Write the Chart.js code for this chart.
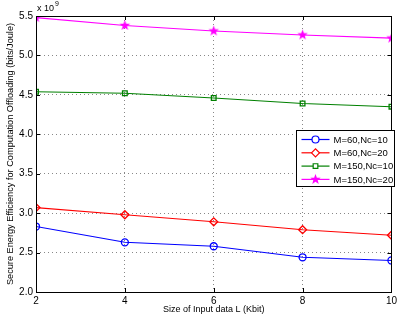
<!DOCTYPE html>
<html>
<head>
<meta charset="UTF-8">
<script src="https://cdn.jsdelivr.net/npm/chart.js"></script>
<style>
  html, body { margin: 0; padding: 0; background: #fff; }
  #wrap { width: 400px; height: 318px; }
</style>
</head>
<body>
<div id="wrap"><canvas id="myChart" width="400" height="318"></canvas></div>
<script>
// data (values in units of 1e9 bits/Joule)
var sizes = [2, 4, 6, 8, 10];
var m60_nc10 = [2.83, 2.63, 2.58, 2.44, 2.40];
var m60_nc20 = [3.07, 2.98, 2.89, 2.79, 2.72];
var m150_nc10 = [4.54, 4.52, 4.46, 4.39, 4.35];
var m150_nc20 = [5.48, 5.38, 5.31, 5.26, 5.22];
var seriesNames = ["M=60,Nc=10", "M=60,Nc=20", "M=150,Nc=10", "M=150,Nc=20"];
var yTicks = [2, 2.5, 3, 3.5, 4, 4.5, 5, 5.5];
var xTicks = [2, 4, 6, 8, 10];

var FONT = "'Liberation Sans', Arial, sans-serif";

// filled pentagram marker like matlab 'p'
function makeStar(color, r) {
  var c = document.createElement('canvas');
  var s = Math.ceil(r * 2 + 2);
  c.width = s; c.height = s;
  var g = c.getContext('2d');
  g.beginPath();
  for (var i = 0; i < 10; i++) {
    var rad = (i % 2 == 0) ? r : r * 0.42;
    var a = -Math.PI / 2 + i * Math.PI / 5;
    var px = s / 2 + rad * Math.cos(a), py = s / 2 + rad * Math.sin(a);
    if (i == 0) g.moveTo(px, py); else g.lineTo(px, py);
  }
  g.closePath();
  g.fillStyle = color;
  g.fill();
  return c;
}
var starImg = makeStar('#ff00ff', 5.5);

function toPts(ys) {
  return sizes.map(function (x, i) { return { x: x, y: ys[i] }; });
}

// box, inward ticks, exponent label and matlab-style legend
var matlabBox = {
  id: 'matlabBox',
  afterDraw: function (chart) {
    var ctx = chart.ctx, a = chart.chartArea;
    var xs = chart.scales.x, ys = chart.scales.y;
    ctx.save();
    ctx.strokeStyle = '#000';
    ctx.lineWidth = 1;
    ctx.beginPath();
    xTicks.forEach(function (t) {
      var px = Math.round(xs.getPixelForValue(t)) + 0.5;
      ctx.moveTo(px, a.bottom); ctx.lineTo(px, a.bottom - 4);
      ctx.moveTo(px, a.top); ctx.lineTo(px, a.top + 4);
    });
    yTicks.forEach(function (t) {
      var py = Math.round(ys.getPixelForValue(t)) + 0.5;
      ctx.moveTo(a.left, py); ctx.lineTo(a.left + 4, py);
      ctx.moveTo(a.right, py); ctx.lineTo(a.right - 4, py);
    });
    ctx.stroke();
    ctx.strokeRect(Math.round(a.left) + 0.5, Math.round(a.top) + 0.5,
      Math.round(a.right - a.left), Math.round(a.bottom - a.top));

    // exponent
    ctx.fillStyle = '#000';
    ctx.font = '9px ' + FONT;
    ctx.textBaseline = 'alphabetic';
    ctx.textAlign = 'left';
    ctx.fillText('x 10', a.left + 1, a.top - 5);
    ctx.font = '7px ' + FONT;
    ctx.fillText('9', a.left + 19, a.top - 10);

    // legend
    var bx = 296.5, by = 130.5, bw = 98, bh = 56;
    ctx.fillStyle = '#fff';
    ctx.fillRect(bx, by, bw, bh);
    ctx.strokeRect(bx, by, bw, bh);
    ctx.font = '9.5px ' + FONT;
    ctx.textBaseline = 'middle';
    chart.data.datasets.forEach(function (ds, i) {
      var y = by + 9 + i * 13.3;
      ctx.strokeStyle = ds.borderColor;
      ctx.lineWidth = 1.2;
      ctx.beginPath();
      ctx.moveTo(bx + 5, y); ctx.lineTo(bx + 33, y);
      ctx.stroke();
      ctx.fillStyle = '#fff';
      Chart.helpers.drawPoint(ctx, {
        pointStyle: ds.pointStyle, radius: ds.pointRadius,
        rotation: 0, borderWidth: ds.pointBorderWidth
      }, bx + 19, y);
      ctx.fillStyle = '#000';
      ctx.fillText(ds.label, bx + 37, y + 0.5);
    });
    ctx.restore();
  }
};

new Chart(document.getElementById('myChart'), {
  type: 'line',
  data: {
    datasets: [{
      label: seriesNames[0],
      data: toPts(m60_nc10),
      borderColor: '#0000ff', backgroundColor: 'rgba(255,255,255,0)',
      pointStyle: 'circle', pointRadius: 3.5, pointBorderWidth: 1.3,
      borderWidth: 1.1
    }, {
      label: seriesNames[1],
      data: toPts(m60_nc20),
      borderColor: '#ff0000', backgroundColor: 'rgba(255,255,255,0)',
      pointStyle: 'rectRot', pointRadius: 4, pointBorderWidth: 1.3,
      borderWidth: 1.1
    }, {
      label: seriesNames[2],
      data: toPts(m150_nc10),
      borderColor: '#008000', backgroundColor: 'rgba(255,255,255,0)',
      pointStyle: 'rect', pointRadius: 3.3, pointBorderWidth: 1.3,
      borderWidth: 1.1
    }, {
      label: seriesNames[3],
      data: toPts(m150_nc20),
      borderColor: '#ff00ff', backgroundColor: '#ff00ff',
      pointStyle: starImg, pointRadius: 5, pointBorderWidth: 1,
      borderWidth: 1.1
    }]
  },
  options: {
    responsive: false,
    animation: false,
    layout: { padding: { top: 16, right: 5, left: 0, bottom: 0 } },
    plugins: { legend: { display: false }, tooltip: { enabled: false } },
    scales: {
      x: {
        type: 'linear', min: 2, max: 10,
        afterBuildTicks: function (s) { s.ticks = xTicks.map(function (v) { return { value: v }; }); },
        afterFit: function (s) { s.height = 26; },
        grid: { color: '#888', drawTicks: false, lineWidth: 1 },
        border: { display: false, dash: [1, 3] },
        ticks: { color: '#000', font: { family: FONT, size: 10 }, padding: 3, maxRotation: 0 },
        title: { display: true, text: 'Size of Input data L (Kbit)', color: '#000',
                 font: { family: FONT, size: 9 }, padding: { top: 0, bottom: 3 } }
      },
      y: {
        type: 'linear', min: 2, max: 5.5,
        afterBuildTicks: function (s) { s.ticks = yTicks.map(function (v) { return { value: v }; }); },
        afterFit: function (s) { s.width = 36; },
        grid: { color: '#888', drawTicks: false, lineWidth: 1 },
        border: { display: false, dash: [1, 3] },
        ticks: { color: '#000', font: { family: FONT, size: 10 }, padding: 3 },
        title: { display: true, text: 'Secure Energy Efficiency for Computation Offloading (bits/Joule)',
                 color: '#000', font: { family: FONT, size: 9.2 }, padding: { top: 5, bottom: 0 } }
      }
    }
  },
  plugins: [matlabBox]
});
</script>
</body>
</html>
